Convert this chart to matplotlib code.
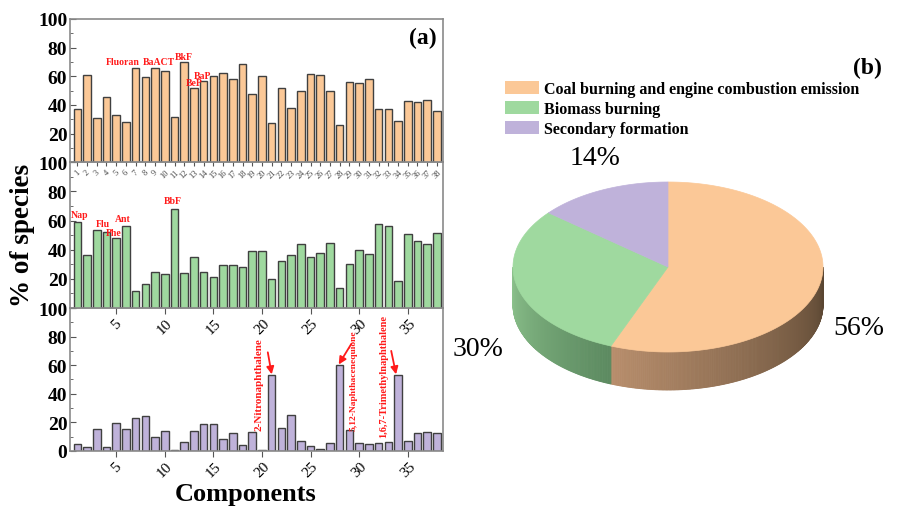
import numpy as np
import matplotlib
matplotlib.use("Agg")
import matplotlib.pyplot as plt
from matplotlib.patches import Polygon, Patch
from matplotlib.colors import to_rgb

plt.rcParams['font.family'] = ['Liberation Serif', 'DejaVu Serif']

# ---- source contributions (% of species) for each of the 38 components ----
components = np.arange(1, 39)
coal = [37.0, 61.0, 30.7, 45.5, 32.6, 28.2, 65.6, 59.4, 66.0, 63.5,
        31.6, 69.7, 52.0, 56.8, 60.3, 62.4, 58.0, 68.4, 47.8, 60.3,
        27.5, 51.7, 37.6, 49.4, 61.4, 61.0, 49.9, 26.1, 55.9, 55.4,
        58.0, 37.0, 37.4, 28.4, 42.7, 41.8, 43.2, 36.0]
biomass = [58.9, 36.3, 53.8, 51.9, 47.8, 56.3, 11.8, 16.2, 24.7, 23.3,
           67.7, 24.2, 34.9, 24.7, 21.2, 29.6, 29.6, 27.9, 39.3, 38.8,
           19.6, 32.1, 36.7, 43.9, 34.9, 37.6, 44.8, 13.9, 30.0, 39.7,
           37.2, 57.3, 56.3, 18.7, 50.6, 45.7, 43.9, 51.3]
secondary = [4.6, 3.0, 15.5, 2.5, 19.4, 15.5, 22.9, 24.7, 9.5, 13.9,
             0.5, 6.2, 13.6, 18.7, 18.7, 8.5, 12.5, 4.2, 13.2, 0.7,
             53.1, 15.9, 25.4, 6.7, 3.5, 1.2, 5.5, 60.0, 14.5, 5.5,
             4.8, 5.8, 6.2, 53.1, 6.9, 12.2, 12.9, 12.2]

source_names = ["Coal burning and engine combustion emission",
                "Biomass burning",
                "Secondary formation"]
source_share = [56, 30, 14]

top_colors = ["#FBC897", "#9FD99F", "#BFB2DA"]
side_colors = [("#b88e6c", "#5a4632"), ("#8ec48e", "#5c8a60"), ("#9a8fb5", "#6c6485")]
edge = "#404040"
spine_c = "#8a8a8a"
red = "#ff1a1a"

fig = plt.figure(figsize=(8.98, 5.10), dpi=100)
fig.patch.set_facecolor("white")

L, W = 0.078, 0.415
ax_top = fig.add_axes([L, 0.680, W, 0.281])
ax_mid = fig.add_axes([L, 0.394, W, 0.286])
ax_bot = fig.add_axes([L, 0.114, W, 0.280])

panels = [(ax_top, coal, top_colors[0]),
          (ax_mid, biomass, top_colors[1]),
          (ax_bot, secondary, top_colors[2])]

for ax, vals, col in panels:
    ax.set_facecolor("none")
    ax.bar(components, vals, width=0.78, color=col, edgecolor=edge, linewidth=1.0, zorder=2)
    ax.set_xlim(0.25, 38.6)
    ax.set_ylim(0, 100)
    for s in ax.spines.values():
        s.set_color(spine_c)
        s.set_linewidth(1.2)
    ax.set_yticks([0, 20, 40, 60, 80, 100])
    ax.set_yticks(np.arange(0, 101, 10), minor=True)
    ax.tick_params(axis='y', which='both', direction='in', color="#555555")
    ax.tick_params(axis='y', which='major', length=4, labelsize=14, pad=2)
    ax.tick_params(axis='y', which='minor', length=2)
    for t in ax.get_yticklabels():
        t.set_fontweight('bold')

# hide the shared 0 labels on the upper two panels
for ax in (ax_top, ax_mid):
    ax.set_yticklabels(["", "20", "40", "60", "80", "100"], fontweight='bold')

# top panel: every component labelled
ax_top.set_xticks(components)
ax_top.set_xticklabels([str(c) for c in components], rotation=45, fontsize=6,
                       color="#444444")
ax_top.tick_params(axis='x', direction='out', length=3, pad=1, color="#555555")

# middle and bottom panels: every fifth component
for ax in (ax_mid, ax_bot):
    ax.set_xticks(np.arange(5, 39, 5))
    ax.set_xticklabels([str(c) for c in range(5, 39, 5)], rotation=45, fontsize=11)
    ax.tick_params(axis='x', direction='out', length=4, pad=2, color="#555555")

ax_mid.set_zorder(3)
ax_top.set_zorder(4)

# compound names
for txt, x, y in [("Fluoran", 5.7, 70.5), ("BaACT", 9.4, 70.5), ("BkF", 12.0, 73.5),
                  ("BeP", 13.0, 55.5), ("BaP", 13.9, 60.5)]:
    ax_top.text(x, y, txt, color=red, fontsize=7, fontweight='bold',
                ha='center', va='center', zorder=5)
for txt, x, y in [("Nap", 1.2, 64), ("Flu", 3.6, 58), ("Phe", 4.7, 51.5),
                  ("Ant", 5.7, 61.5), ("BbF", 10.8, 73.5)]:
    ax_mid.text(x, y, txt, color=red, fontsize=7, fontweight='bold',
                ha='center', va='center', zorder=5)

arrow = dict(arrowstyle='-|>', color=red, lw=1.3, mutation_scale=11, shrinkA=0, shrinkB=0)
ax_bot.text(19.7, 47, "2-Nitronaphthalene", rotation=90, color=red, fontsize=8,
            fontweight='bold', ha='center', va='center')
ax_bot.annotate("", xy=(21.0, secondary[20] + 0.5), xytext=(20.6, 69), arrowprops=arrow)
ax_bot.text(29.4, 50, "5,12-Naphthacenequione", rotation=90, color=red, fontsize=6.8,
            fontweight='bold', ha='center', va='center')
ax_bot.annotate("", xy=(27.9, secondary[27] + 0.5), xytext=(29.2, 75), arrowprops=arrow)
ax_bot.text(32.5, 53, "1,6,7-Trimethylnaphthalene", rotation=90, color=red, fontsize=7.5,
            fontweight='bold', ha='center', va='center')
ax_bot.annotate("", xy=(33.8, secondary[33] + 0.5), xytext=(33.3, 70), arrowprops=arrow)

fig.text(0.025, 0.538, "% of species", rotation=90, fontsize=19.5, fontweight='bold',
         ha='center', va='center')
fig.text(0.273, 0.030, "Components", fontsize=19, fontweight='bold',
         ha='center', va='center')
ax_top.text(0.985, 0.87, "(a)", transform=ax_top.transAxes, fontsize=17,
            fontweight='bold', ha='right', va='center')

# ---- 3D pie of source shares ----
pax = fig.add_axes([0.5, 0.0, 0.5, 1.0])
pax.set_xlim(449, 898)
pax.set_ylim(510, 0)
pax.axis('off')
cx, cy, rx, ry, depth = 668, 268, 155, 85, 38


def pt(theta_deg, dy=0.0):
    t = np.deg2rad(theta_deg)
    return cx + rx * np.cos(t), cy - ry * np.sin(t) + dy


fracs = np.array(source_share, dtype=float) / np.sum(source_share)
starts = 90 - 360 * np.concatenate([[0], np.cumsum(fracs)[:-1]])
ends = starts - 360 * fracs

# side walls (front half only, where sin < 0)
for a0, a1, (light, dark) in zip(starts, ends, side_colors):
    lo, hi = a1, a0
    for k in range(-2, 2):
        v_lo, v_hi = max(lo, -180 + 360 * k), min(hi, 360 * k)
        if v_hi <= v_lo:
            continue
        n = max(int((v_hi - v_lo) * 2), 2)
        th = np.linspace(v_lo, v_hi, n + 1)
        c_l, c_d = np.array(to_rgb(light)), np.array(to_rgb(dark))
        for i in range(n):
            f = i / max(n - 1, 1)
            c = c_l + (c_d - c_l) * f
            p1, p2 = pt(th[i]), pt(th[i + 1])
            p3, p4 = pt(th[i + 1], depth), pt(th[i], depth)
            pax.add_patch(Polygon([p1, p2, p3, p4], closed=True, facecolor=c,
                                  edgecolor=c, linewidth=0.6, zorder=1))

# top faces
for a0, a1, col in zip(starts, ends, top_colors):
    th = np.linspace(a0, a1, 200)
    xs, ys = pt(th)
    poly = np.vstack([[cx, cy], np.column_stack([xs, ys])])
    pax.add_patch(Polygon(poly, closed=True, facecolor=col, edgecolor=col,
                          linewidth=0.5, zorder=2))

# percentage labels, pushed outward from each slice's mid-angle
label_nudge = [(0, 0), (-2, 14), (10, -2)]
for a0, a1, share, (nx, ny) in zip(starts, ends, source_share, label_nudge):
    mid = np.deg2rad((a0 + a1) / 2)
    x = cx + 1.25 * rx * np.cos(mid) + nx
    y = cy - 1.4 * ry * np.sin(mid) + ny
    if np.sin(mid) < 0:
        y += depth
    pax.text(x, y, f"{share}%", fontsize=20, ha='center', va='center')

handles = [Patch(facecolor=c, edgecolor='none') for c in top_colors]
pax.legend(handles, source_names, loc='upper left', bbox_to_anchor=(0.125, 0.84),
           frameon=False, prop=dict(size=11.5, weight='bold'), handlelength=2.1,
           handleheight=0.9, labelspacing=0.25, handletextpad=0.35,
           borderaxespad=0, borderpad=0)
pax.text(882, 68, "(b)", fontsize=17, fontweight='bold', ha='right', va='center')

fig.savefig("out.png", dpi=100, facecolor="white")
